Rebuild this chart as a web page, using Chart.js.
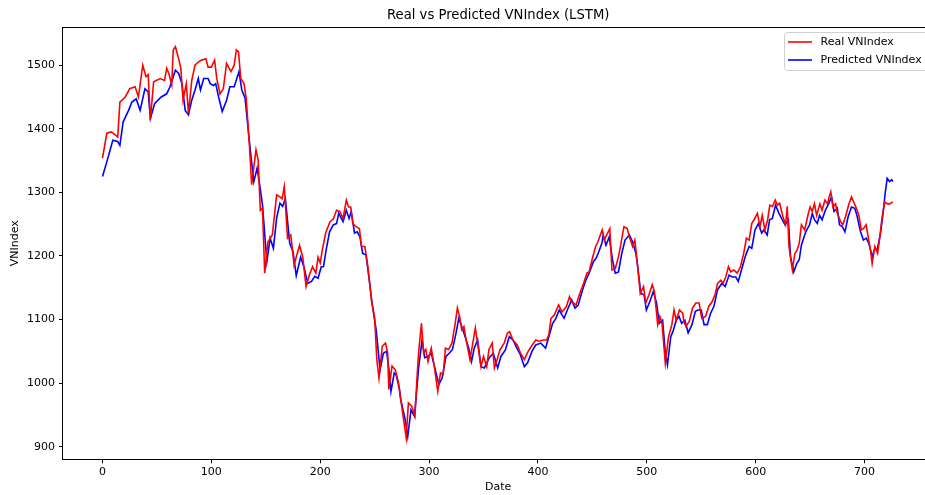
<!DOCTYPE html>
<html>
<head>
<meta charset="utf-8">
<script src="https://cdn.jsdelivr.net/npm/chart.js@4.4.1/dist/chart.umd.min.js"></script>
<style>
  html, body { margin: 0; padding: 0; background: #fff; overflow: hidden; }
  #wrap { width: 940px; height: 495px; }
</style>
</head>
<body>
<div id="wrap"><canvas id="c" width="940" height="495"></canvas></div>
<script>
const chartTitle = "Real vs Predicted VNIndex (LSTM)";
const xTitle = "Date";
const yTitle = "VNIndex";
const seriesNames = ["Real VNIndex", "Predicted VNIndex"];
const xTicks = [0, 100, 200, 300, 400, 500, 600, 700];
const yTicks = [900, 1000, 1100, 1200, 1300, 1400, 1500];

const realIdx = [0,4,8,12,14,16,21,25,30,33,37,40,42,44,47,53,57,59,61,63.6,65,67,70,72,74,77,79,82,85,88,91,95,97,100,103,105,108,111,114,118,121,123,125,127,130,132,135,137,140,141,143,145,147,149,152,156,160,163,165,167,170,173,176,181,184,187,190,193,196,198,200,202,205,209,212,215,218,221,224,226,228,230,233,236,238,241,244,247,250,252,254,257,260,262,263,266,269,272,274,276,279,281,284,287,289,290.5,293,295,297,299,302,305,308,310.5,313,315,318,321,324,326,328,330,332,334,337.6,340,342.5,345,347.7,350,353,355,358,360,362,365,369,372,374,377,381,384,387.5,391,394,398,401,405,408,410,412,415,419,422,426,429,431,435,438,442,445,447,450,453,455,459,461,464,466,468,471,474,476,479,482,484,487,489,491,494,497,499,502,505,507,510,512,514,517,520,523,525,527,530,533,534,536,539,542,545,548,550.5,554,557,560,563,565,568,570,572.5,575,577,580,583,586,589,591.5,594,596.4,598.5,601.6,604,606,608.5,611,613,615.5,618,620,622,625,627.5,629,630.6,633.7,636,638,640,642,645,648,650,652,654,656,659,661,663.6,666,667.5,669,671,673.4,675,678,680,682.6,685.7,688,690,692,694.8,697,699,701.5,703,705.5,707,709.5,712,713.7,716,718.6,721,723,726];
const realVals = [1354,1393,1395,1390,1387,1442,1450,1463,1466,1450,1500,1482,1485,1414,1474,1479,1476,1495,1487,1469,1524,1529,1510,1495,1445,1471,1424,1476,1500,1505,1508,1510,1497,1497,1508,1479,1455,1463,1503,1490,1500,1524,1521,1479,1471,1448,1374,1312,1353,1367,1351,1272,1275,1173,1222,1233,1296,1293,1290,1309,1228,1233,1186,1217,1198,1152,1170,1183,1173,1198,1189,1210,1236,1254,1258,1272,1270,1259,1288,1277,1277,1251,1246,1243,1215,1215,1181,1131,1103,1037,1008,1058,1063,1047,990,1027,1021,1000,974,950,914,969,964,948,1011,1050,1094,1047,1053,1034,1055,1024,987,1016,1014,1055,1053,1063,1094,1118,1105,1084,1089,1068,1037,1061,1087,1058,1026,1042,1026,1053,1063,1024,1034,1052,1063,1079,1081,1068,1060,1047,1037,1050,1058,1068,1066,1068,1068,1076,1102,1107,1123,1112,1120,1136,1128,1123,1139,1157,1173,1175,1196,1215,1222,1241,1225,1236,1243,1178,1180,1199,1217,1246,1243,1230,1215,1225,1194,1141,1152,1126,1139,1155,1144,1092,1105,1094,1031,1073,1092,1115,1099,1115,1110,1097,1089,1097,1118,1126,1126,1102,1105,1121,1128,1141,1157,1162,1157,1167,1183,1175,1178,1173,1183,1204,1228,1225,1251,1257,1267,1246,1264,1241,1257,1280,1278,1288,1280,1283,1262,1249,1278,1215,1178,1204,1209,1220,1249,1241,1264,1277,1270,1282,1264,1282,1272,1288,1282,1293,1301,1277,1282,1267,1254,1249,1262,1282,1293,1285,1277,1264,1241,1243,1249,1233,1209,1188,1215,1204,1225,1259,1285,1282,1282,1285];

const predIdx = [0,4,9.5,14,16,19,24,27,31,34.6,39,42,44,48,54,59,62,67,70,73,76,79,82,85,88,90,93,97,99,102,104,106.7,110,114,117,121,125.4,128,131,135,139,142,144,147,151,154,157,160,163,165.5,168,172,175,178,182,185,188.6,192,195,198,201,203,205.5,208.6,212,215,217,221,224,226.5,228.5,231.5,234,236.5,239,242,245,248,251.4,255,258,261,263.5,265,268,270,272.8,274,278,280.4,283.4,286.6,290.5,293.6,296,299,302,305,309,312,315.5,318.5,321.5,324.8,327.3,330,333.5,336.4,339,341.5,344.6,347.7,350.8,355.3,359,363,366,370,373.7,377,380.7,383.8,387.5,390.5,394.5,398,402.7,407,410,413.5,416.5,419.5,424,427,431,434,437,441,444,447,451,453.6,456,458.7,460,462.5,465.5,468.5,471,474,477,480,484,487,490,492,494.5,497.5,499.6,502.7,506,509,511.4,514.5,516.8,519,522,524,527,529.6,532,535,538,541.5,544.6,547,550,552.6,555.6,558.6,561.7,565,569,572,575.6,578.6,581.7,584,587.8,590.8,594,596.4,599.4,602.5,605.5,607.6,610.6,612.8,615.3,618.3,621.4,624.4,627,630,632,635,637.7,640,642,646,649.5,652,654,656.6,658.7,661,664,667,669.7,672,675,677,679.7,682,685,688,691,693,696.3,699,701.5,704,707,709.5,711.6,714.7,717,719,720.8,723,725,726];
const predVals = [1325,1348,1382,1380,1374,1411,1429,1442,1447,1429,1463,1458,1416,1440,1450,1455,1466,1492,1487,1471,1429,1422,1445,1461,1479,1461,1479,1479,1471,1468,1471,1450,1427,1445,1466,1466,1490,1461,1448,1379,1317,1338,1317,1280,1191,1228,1212,1260,1283,1278,1290,1220,1207,1169,1198,1183,1157,1160,1168,1165,1183,1183,1210,1238,1249,1251,1267,1254,1272,1259,1270,1236,1238,1230,1204,1202,1163,1121,1084,1021,1047,1050,1016,987,1016,1012,990,974,943,916,958,948,1026,1068,1040,1042,1047,1026,998,1008,1042,1047,1053,1079,1102,1089,1071,1055,1034,1055,1068,1026,1024,1040,1047,1024,1042,1052,1073,1068,1055,1045,1026,1032,1050,1060,1063,1055,1073,1094,1102,1115,1102,1115,1131,1118,1123,1147,1162,1173,1191,1197,1207,1220,1233,1217,1230,1194,1173,1175,1204,1225,1233,1222,1204,1178,1141,1139,1115,1128,1144,1126,1094,1099,1052,1029,1073,1081,1099,1105,1094,1099,1079,1092,1113,1115,1115,1092,1092,1110,1121,1147,1157,1152,1170,1167,1167,1160,1183,1201,1215,1212,1241,1251,1236,1241,1233,1257,1259,1280,1267,1257,1249,1257,1199,1175,1188,1194,1217,1238,1249,1267,1257,1251,1264,1257,1272,1282,1293,1270,1275,1249,1246,1238,1262,1277,1275,1264,1238,1225,1228,1220,1199,1212,1209,1236,1267,1299,1322,1317,1320,1317];

const toPts = (xs, ys) => xs.map((x, i) => ({ x: x, y: ys[i] }));

const FONT = "'DejaVu Sans', sans-serif";

const frameAndLegend = {
  id: 'frameAndLegend',
  afterDraw(chart) {
    const { ctx, chartArea: a } = chart;
    ctx.save();
    ctx.strokeStyle = '#000';
    ctx.lineWidth = 1;
    ctx.beginPath();
    ctx.moveTo(a.left, a.top + 0.5);
    ctx.lineTo(a.right, a.top + 0.5);
    ctx.lineTo(a.right, a.bottom);
    ctx.stroke();

    const bx = 784.5, by = 32.5, bw = a.right - 5 - 784.5, bh = 38, r = 3;
    ctx.beginPath();
    ctx.moveTo(bx + r, by);
    ctx.lineTo(bx + bw - r, by);
    ctx.arcTo(bx + bw, by, bx + bw, by + r, r);
    ctx.lineTo(bx + bw, by + bh - r);
    ctx.arcTo(bx + bw, by + bh, bx + bw - r, by + bh, r);
    ctx.lineTo(bx + r, by + bh);
    ctx.arcTo(bx, by + bh, bx, by + bh - r, r);
    ctx.lineTo(bx, by + r);
    ctx.arcTo(bx, by, bx + r, by, r);
    ctx.closePath();
    ctx.fillStyle = 'rgba(255,255,255,0.8)';
    ctx.fill();
    ctx.strokeStyle = '#d0d0d0';
    ctx.stroke();

    const rows = [42, 60];
    chart.data.datasets.forEach((ds, i) => {
      const y = rows[i];
      ctx.strokeStyle = ds.borderColor;
      ctx.lineWidth = 1.6;
      ctx.beginPath();
      ctx.moveTo(788, y);
      ctx.lineTo(812, y);
      ctx.stroke();
      ctx.fillStyle = '#000';
      ctx.font = "11px " + FONT;
      ctx.textAlign = 'left';
      ctx.textBaseline = 'middle';
      ctx.fillText(ds.label, 820.5, y);
    });
    ctx.restore();
  }
};

new Chart(document.getElementById('c'), {
  type: 'line',
  data: {
    datasets: [
      { label: seriesNames[0], data: toPts(realIdx, realVals), borderColor: '#ff0000', backgroundColor: '#ff0000', borderWidth: 1.6, pointRadius: 0, tension: 0, fill: false },
      { label: seriesNames[1], data: toPts(predIdx, predVals), borderColor: '#0000ff', backgroundColor: '#0000ff', borderWidth: 1.6, pointRadius: 0, tension: 0, fill: false }
    ]
  },
  options: {
    responsive: false,
    animation: false,
    layout: { padding: { left: 0, right: 6.5, top: 0, bottom: 0 } },
    plugins: {
      legend: { display: false },
      tooltip: { enabled: false },
      title: {
        display: true,
        text: chartTitle,
        fullSize: false,
        color: '#000',
        font: { family: FONT, size: 13.2, weight: 'normal' },
        padding: { top: 8, bottom: 3.2 }
      }
    },
    scales: {
      x: {
        type: 'linear',
        min: -36.35,
        max: 763.35,
        afterFit(s) { s.height = 35.7; },
        afterBuildTicks(s) { s.ticks = xTicks.map(v => ({ value: v })); },
        ticks: { includeBounds: false, color: '#000', font: { family: FONT, size: 11 }, padding: 2, maxRotation: 0, autoSkip: false, callback: v => String(v) },
        grid: { drawOnChartArea: false, drawTicks: true, tickLength: 4, tickColor: '#000', tickWidth: 1 },
        border: { display: true, color: '#000', width: 1 },
        title: { display: true, text: xTitle, color: '#000', font: { family: FONT, size: 11 }, padding: { top: 0, bottom: 1.4 } }
      },
      y: {
        type: 'linear',
        min: 880.3,
        max: 1560,
        afterFit(s) { s.width = 62.9; },
        afterBuildTicks(s) { s.ticks = yTicks.map(v => ({ value: v })); },
        ticks: { includeBounds: false, color: '#000', font: { family: FONT, size: 11 }, padding: 4, autoSkip: false, callback: v => String(v) },
        grid: { drawOnChartArea: false, drawTicks: true, tickLength: 4, tickColor: '#000', tickWidth: 1 },
        border: { display: true, color: '#000', width: 1 },
        title: { display: true, text: yTitle, color: '#000', font: { family: FONT, size: 11 }, padding: { top: 8.4, bottom: 0 } }
      }
    }
  },
  plugins: [frameAndLegend]
});
</script>
</body>
</html>
